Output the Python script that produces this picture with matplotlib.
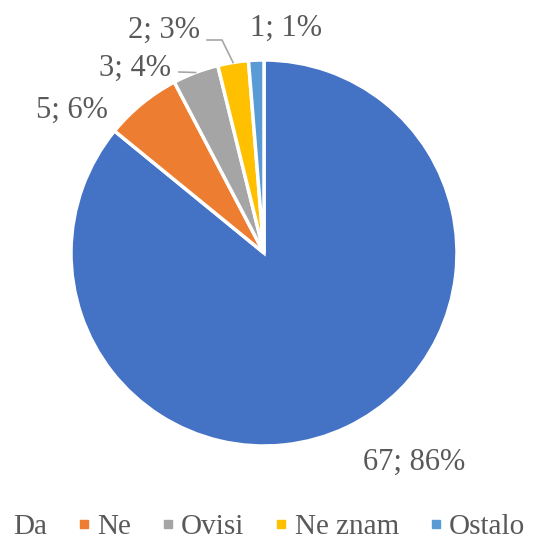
import numpy as np
import matplotlib
matplotlib.use("Agg")
import matplotlib.pyplot as plt
from matplotlib.lines import Line2D

categories = ["Da", "Ne", "Ovisi", "Ne znam", "Ostalo"]
counts = [67, 5, 3, 2, 1]
percents = [86, 6, 4, 3, 1]
colors = ["#4472C4", "#ED7D31", "#A5A5A5", "#FFC000", "#5B9BD5"]

W, H = 552, 546
plt.rcParams['font.family'] = ['Liberation Serif', 'DejaVu Serif']
fig = plt.figure(figsize=(W / 100, H / 100), dpi=100)
ax = fig.add_axes([0, 0, 1, 1])

def px(x, y):
    return x, H - y

cx, cy = px(264, 253)
R = 193
wedges, _ = ax.pie(counts, colors=colors, startangle=90, counterclock=False,
                   center=(cx, cy), radius=R, frame=True,
                   wedgeprops=dict(edgecolor='white', linewidth=2.5))
ax.set_xlim(0, W)
ax.set_ylim(0, H)
ax.axis('off')
ax.set_aspect('equal')

txt_color = '#595959'
fs = 22
label_pos = [(414, 462), (72, 110), (135, 68), (164, 30), (286, 28)]
for i, (c, p) in enumerate(zip(counts, percents)):
    x, y = px(*label_pos[i])
    ax.text(x, y, f"{c}; {p}%", ha='center', va='center', fontsize=fs, color=txt_color)

def edge_point(i):
    w = wedges[i]
    mid = np.deg2rad((w.theta1 + w.theta2) / 2)
    return cx + R * np.cos(mid), cy + R * np.sin(mid)

# leader lines
line_c = '#A6A6A6'
ex, ey = edge_point(3)
k = px(222, 40)
s = px(207, 40)
ax.plot([s[0], k[0], ex], [s[1], k[1], ey], color=line_c, lw=1.2)
ex, ey = edge_point(2)
s = px(179, 72)
ax.plot([s[0], ex], [s[1], ey], color=line_c, lw=1.2)

handles = [Line2D([], [], marker='s', linestyle='none', markersize=5.5,
                  markerfacecolor=col, markeredgecolor=col) for col in colors]
leg = fig.legend(handles, categories, loc='center left', bbox_to_anchor=(-0.056, 1 - 527 / H),
                 ncol=5, frameon=False, fontsize=21, handlelength=0.3,
                 handletextpad=0.3, columnspacing=1.12, labelcolor=txt_color)
leg.legend_handles[0].set_visible(False)

fig.savefig("out.png", dpi=100)
